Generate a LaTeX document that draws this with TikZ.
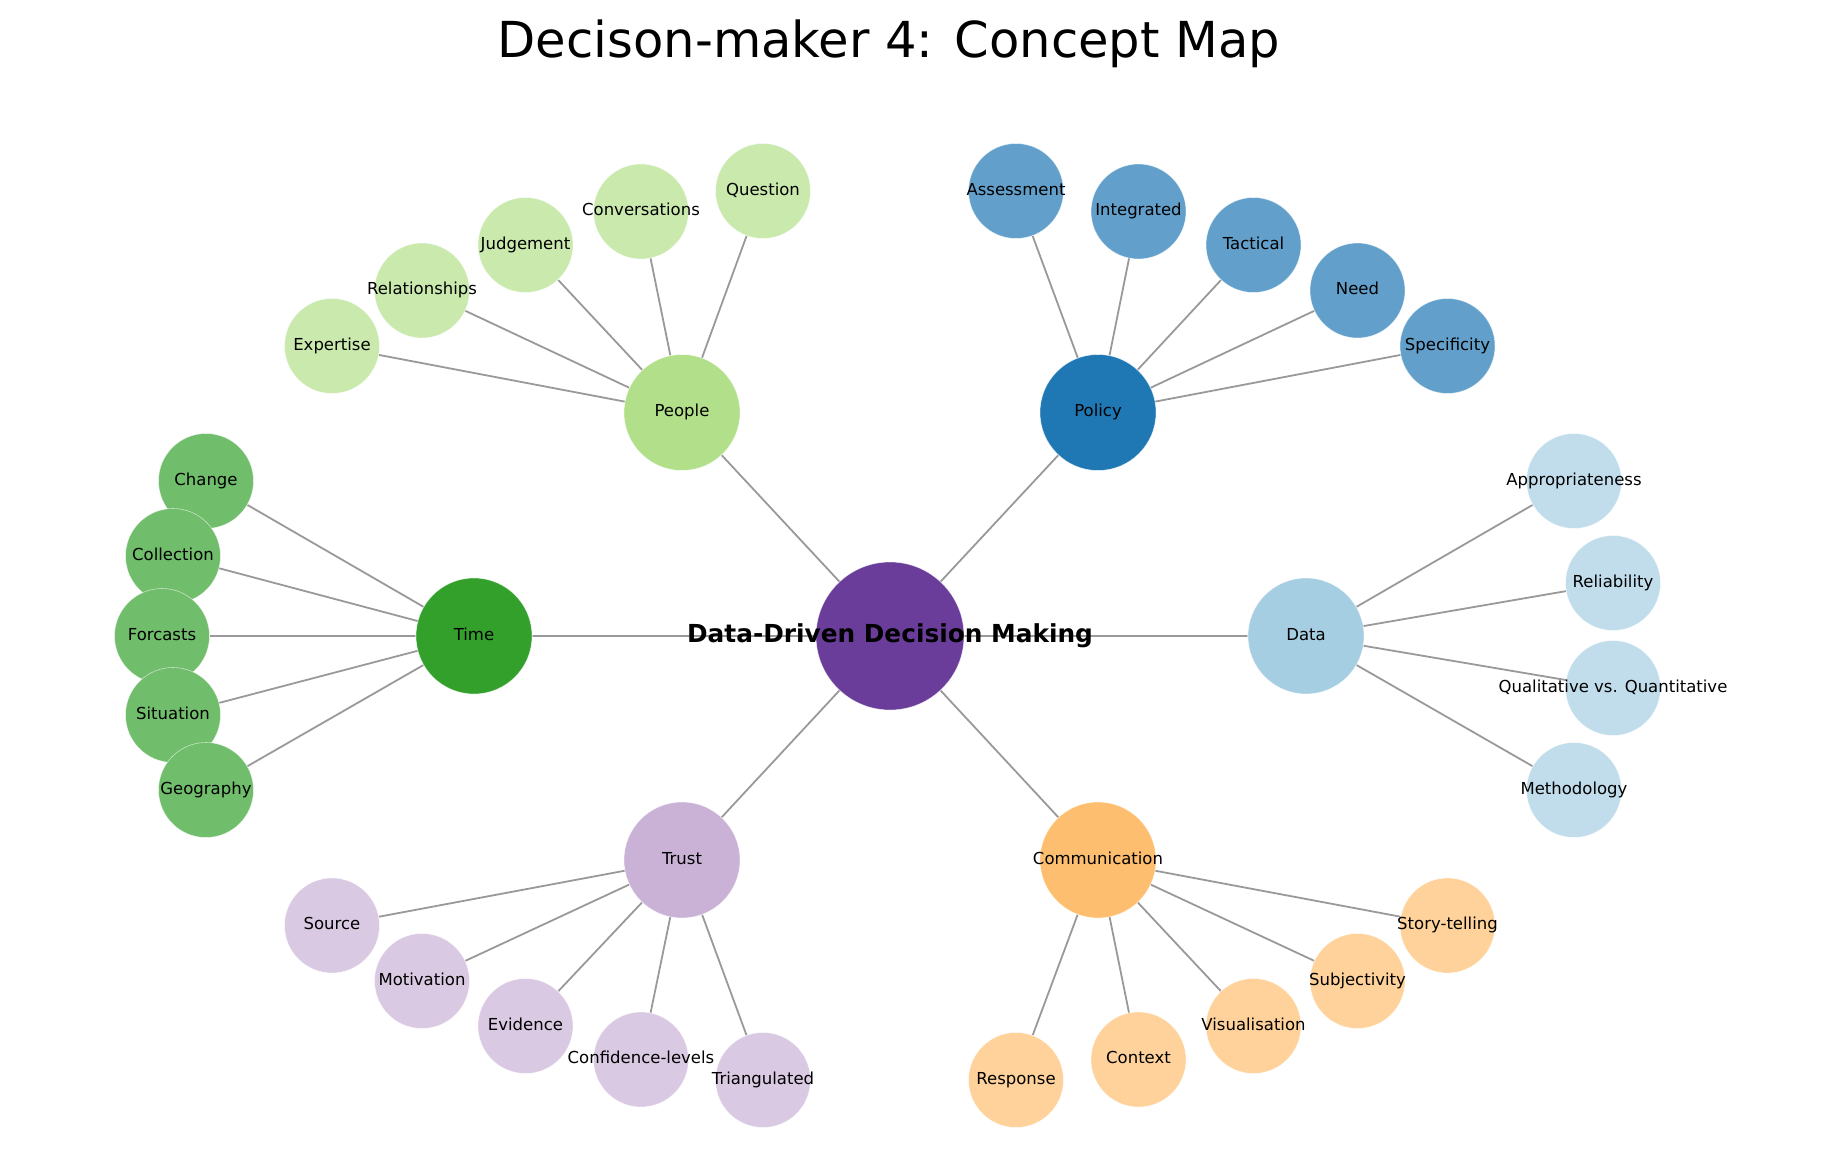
\documentclass[tikz,border=0pt]{standalone}
\usepackage{fontspec}
\setmainfont{DejaVu Sans}
\usepackage{tikz}
\usetikzlibrary{backgrounds}
\definecolor{hubcol}{HTML}{6A3D9A}
\definecolor{peoplecol}{HTML}{B2DF8A}
\definecolor{policycol}{HTML}{1F78B4}
\definecolor{timecol}{HTML}{33A02C}
\definecolor{datacol}{HTML}{A6CEE3}
\definecolor{trustcol}{HTML}{CAB2D6}
\definecolor{commcol}{HTML}{FDBF6F}
\definecolor{edgecol}{RGB}{153,153,153}
\newcommand{\lbl}[1]{\makebox[0pt]{#1}}
\tikzset{font=\fontsize{16.5}{20}\selectfont}
\tikzset{bubble/.style={circle, draw=white, draw opacity=.6, line width=.6pt, inner sep=0pt,
    text height=12.5pt, text depth=3.9pt}}
\tikzset{hub/.style={bubble, fill=hubcol, minimum size=148pt,
    font=\fontsize{24.8}{30}\selectfont\bfseries, text height=18.8pt, text depth=5.9pt}}
\tikzset{topic/.style={bubble, fill=#1, minimum size=116pt}}
\tikzset{kid/.style={bubble, fill=#1!70!white, minimum size=95pt}}
\tikzset{spoke/.style={draw=edgecol, line width=1.8pt}}

\begin{document}
\begin{tikzpicture}[x=1pt,y=-1pt]
\useasboundingbox (0,0) rectangle (1834,1159);
\node[anchor=base, font=\fontsize{49.6}{60}\selectfont] (title) at (889,57.5) {Decison-maker 4: Concept Map};
% hub and topics
\node[hub] (ddm) at (890,636) {\lbl{Data-Driven Decision Making}};
\node[topic=peoplecol] (people) at (682,412.5) {\lbl{People}};
\node[topic=policycol] (policy) at (1098,412.5) {\lbl{Policy}};
\node[topic=timecol] (time) at (474,636) {\lbl{Time}};
\node[topic=datacol] (data) at (1306,636) {\lbl{Data}};
\node[topic=trustcol] (trust) at (682,860) {\lbl{Trust}};
\node[topic=commcol] (comm) at (1098,860) {\lbl{Communication}};
% people
\node[kid=peoplecol] (expertise) at (332,346) {\lbl{Expertise}};
\node[kid=peoplecol] (relationships) at (422,290.5) {\lbl{Relationships}};
\node[kid=peoplecol] (judgement) at (525.5,245) {\lbl{Judgement}};
\node[kid=peoplecol] (conversations) at (641,211.5) {\lbl{Conversations}};
\node[kid=peoplecol] (question) at (763,191) {\lbl{Question}};
% policy
\node[kid=policycol] (assessment) at (1016,191) {\lbl{Assessment}};
\node[kid=policycol] (integrated) at (1138.5,211.5) {\lbl{Integrated}};
\node[kid=policycol] (tactical) at (1253.5,245) {\lbl{Tactical}};
\node[kid=policycol] (need) at (1357.5,290.5) {\lbl{Need}};
\node[kid=policycol] (specificity) at (1447.5,346) {\lbl{Specificity}};
% time
\node[kid=timecol] (change) at (206,481) {\lbl{Change}};
\node[kid=timecol] (collection) at (173,556) {\lbl{Collection}};
\node[kid=timecol] (forcasts) at (162,636) {\lbl{Forcasts}};
\node[kid=timecol] (situation) at (173,715) {\lbl{Situation}};
\node[kid=timecol] (geography) at (206,790) {\lbl{Geography}};
% data
\node[kid=datacol] (appropriateness) at (1574,481) {\lbl{Appropriateness}};
\node[kid=datacol] (reliability) at (1613,583) {\lbl{Reliability}};
\node[kid=datacol] (qualquant) at (1613,688) {\lbl{Qualitative vs. Quantitative}};
\node[kid=datacol] (methodology) at (1574,790) {\lbl{Methodology}};
% trust
\node[kid=trustcol] (source) at (332,925.5) {\lbl{Source}};
\node[kid=trustcol] (motivation) at (422,981) {\lbl{Motivation}};
\node[kid=trustcol] (evidence) at (525.5,1026) {\lbl{Evidence}};
\node[kid=trustcol] (confidence) at (641,1059.5) {\lbl{Confidence-levels}};
\node[kid=trustcol] (triangulated) at (763,1080) {\lbl{Triangulated}};
% communication
\node[kid=commcol] (response) at (1016,1080) {\lbl{Response}};
\node[kid=commcol] (context) at (1138.5,1059.5) {\lbl{Context}};
\node[kid=commcol] (visualisation) at (1253.5,1026) {\lbl{Visualisation}};
\node[kid=commcol] (subjectivity) at (1357.5,981) {\lbl{Subjectivity}};
\node[kid=commcol] (storytelling) at (1447.5,925.5) {\lbl{Story-telling}};
% connectors
\begin{scope}[on background layer]
\draw[spoke] (ddm) -- (people) (ddm) -- (policy) (ddm) -- (time)
  (ddm) -- (data) (ddm) -- (trust) (ddm) -- (comm);
\draw[spoke] (people) -- (expertise) (people) -- (relationships) (people) -- (judgement)
  (people) -- (conversations) (people) -- (question);
\draw[spoke] (policy) -- (assessment) (policy) -- (integrated) (policy) -- (tactical)
  (policy) -- (need) (policy) -- (specificity);
\draw[spoke] (time) -- (change) (time) -- (collection) (time) -- (forcasts)
  (time) -- (situation) (time) -- (geography);
\draw[spoke] (data) -- (appropriateness) (data) -- (reliability) (data) -- (qualquant)
  (data) -- (methodology);
\draw[spoke] (trust) -- (source) (trust) -- (motivation) (trust) -- (evidence)
  (trust) -- (confidence) (trust) -- (triangulated);
\draw[spoke] (comm) -- (response) (comm) -- (context) (comm) -- (visualisation)
  (comm) -- (subjectivity) (comm) -- (storytelling);
\end{scope}
\end{tikzpicture}
\end{document}
